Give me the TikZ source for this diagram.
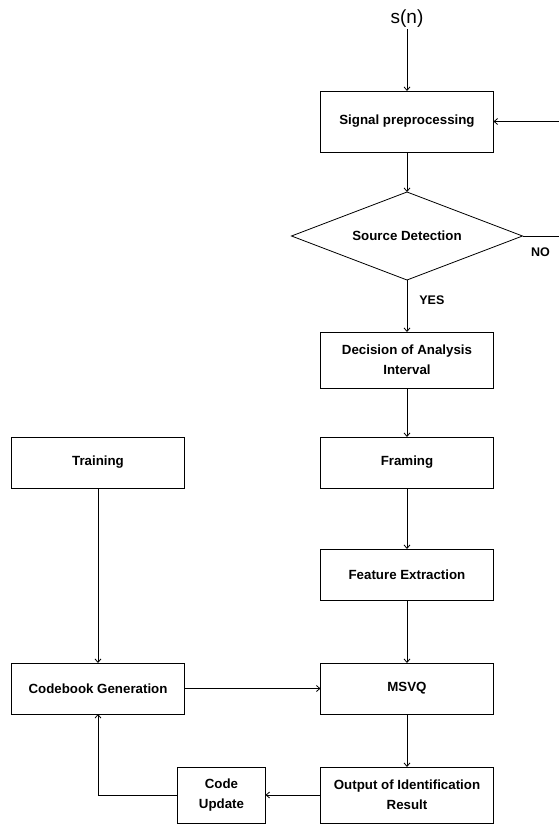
\documentclass[tikz,border=0pt]{standalone}
\usepackage{fontspec}
\setmainfont{Liberation Sans}
\usetikzlibrary{arrows.meta,positioning,shapes.geometric}

\begin{document}
\begin{tikzpicture}[
  node distance=50pt and 136pt,
  box/.style={draw, line width=0.8pt, align=center, inner sep=2pt, outer sep=0pt, minimum width=173pt, minimum height=51pt, font=\bfseries\fontsize{13.3}{20}\selectfont},
  decide/.style={draw, diamond, line width=0.8pt, aspect=2.6, inner sep=0pt, outer sep=0pt, minimum width=231pt, minimum height=88pt, font=\bfseries\fontsize{13.3}{20}\selectfont},
  lbl/.style={inner sep=1pt, font=\bfseries\fontsize{12.5}{15}\selectfont},
  arr/.style={-{Straight Barb[length=3.5pt,width=6pt]}, line width=0.8pt},
  wire/.style={line width=0.8pt},
]
\useasboundingbox (0,0) rectangle (558pt,-825pt);

\node[box, minimum height=61pt] (prep) at (407pt,-121.5pt) {Signal preprocessing};
\node[inner sep=1pt, font=\fontsize{19}{21}\selectfont, above=62pt of prep] (input) {s(n)};
\node[decide, below=40pt of prep] (detect) {Source Detection};
\node[box, minimum height=56pt, below=52pt of detect] (interval) {Decision of Analysis\\Interval};
\node[box, below=49pt of interval] (framing) {Framing};
\node[box, below=61pt of framing] (feature) {Feature Extraction};
\node[box, below=63pt of feature] (msvq) {MSVQ};
\node[box, minimum height=56pt, below=53pt of msvq] (result) {Output of Identification\\Result};
\node[box, left=of framing] (training) {Training};
\node[box, left=of msvq] (codebook) {Codebook Generation};
\node[box, minimum width=88pt, minimum height=56pt, left=55pt of result] (update) {Code\\Update};

% loose ends at the right border
\path (detect.east) ++(36pt,0) coordinate (noend);
\path (prep.east) ++(65pt,0) coordinate (loopin);

\draw[arr] (input) -- (prep);
\draw[arr] (loopin) -- (prep);
\draw[arr] (prep) -- (detect);
\draw[wire] (detect) -- node[lbl, below=10pt] {NO} (noend);
\draw[arr] (detect) -- node[lbl, right=11pt, pos=0.38] {YES} (interval);
\draw[arr] (interval) -- (framing);
\draw[arr] (framing) -- (feature);
\draw[arr] (feature) -- (msvq);
\draw[arr] (msvq) -- (result);
\draw[arr] (training) -- (codebook);
\draw[arr] (codebook) -- (msvq);
\draw[arr] (result) -- (update);
\draw[arr] (update.west) -| (codebook.south);
\end{tikzpicture}
\end{document}
